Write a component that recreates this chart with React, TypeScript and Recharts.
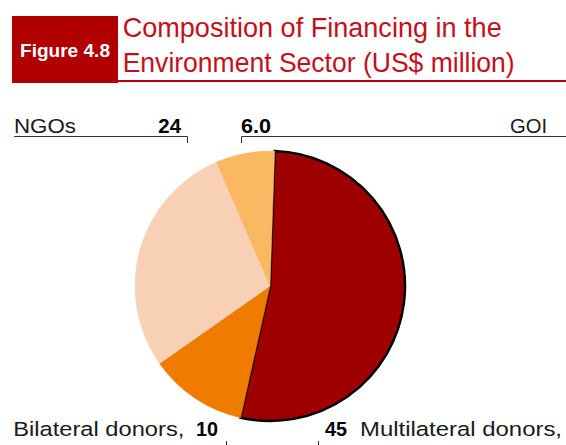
import React from "react";
import { PieChart, Pie, Cell } from "recharts";

const categories = ["Multilateral donors", "Bilateral donors", "NGOs", "GOI"];
const values = [45, 10, 24, 6.0];
const valueLabels = ["45", "10", "24", "6.0"];
const colors = ["#9e0000", "#ef7b00", "#f8d0b6", "#fbb862"];
const titleLines = ["Composition of Financing in the", "Environment Sector (US$ million)"];
const figureLabel = "Figure 4.8";

const data = categories.map((name, i) => ({ name, value: values[i] }));

const FONT = "'Liberation Sans', Arial, sans-serif";
const TXT = "#1a1a1a";

export default function App() {
  return (
    <div style={{ position: "absolute", left: 0, top: 0, width: 566, height: 445, background: "#fff", overflow: "hidden" }}>
      <div style={{ position: "absolute", left: 0, top: 0 }}>
        <PieChart width={566} height={445} margin={{ top: 0, right: 0, bottom: 0, left: 0 }}>
          <Pie
            data={data}
            dataKey="value"
            nameKey="name"
            cx={270}
            cy={286}
            outerRadius={135}
            innerRadius={0}
            startAngle={88}
            endAngle={-272}
            isAnimationActive={false}
            stroke="none"
            label={false}
            labelLine={false}
          >
            {data.map((d, i) => (
              <Cell
                key={d.name}
                fill={colors[i]}
                stroke={i === 0 ? "#000" : colors[i]}
                strokeWidth={i === 0 ? 2.5 : 0.5}
              />
            ))}
          </Pie>
        </PieChart>
      </div>
      <svg width={566} height={445} style={{ position: "absolute", left: 0, top: 0, pointerEvents: "none" }}>
        <rect x={12} y={16} width={106} height={67} fill="#b00000" />
        <text x={20} y={56.5} fill="#fff" fontFamily={FONT} fontWeight="bold" fontSize={18.5} textLength={90} lengthAdjust="spacingAndGlyphs">{figureLabel}</text>
        <text x={122.7} y={36.5} fill="#c4101a" fontFamily={FONT} fontSize={28} textLength={379} lengthAdjust="spacingAndGlyphs">{titleLines[0]}</text>
        <text x={122.7} y={71.5} fill="#c4101a" fontFamily={FONT} fontSize={28} textLength={392} lengthAdjust="spacingAndGlyphs">{titleLines[1]}</text>
        <line x1={118} y1={81} x2={566} y2={81} stroke="#b80010" strokeWidth={2} />

        {/* NGOs label */}
        <text x={14} y={132.7} fill={TXT} fontFamily={FONT} fontSize={20} textLength={62} lengthAdjust="spacingAndGlyphs">{categories[2]}</text>
        <text x={158.3} y={132.7} fill="#000" fontFamily={FONT} fontSize={20} fontWeight="bold" textLength={22.7} lengthAdjust="spacingAndGlyphs">{valueLabels[2]}</text>
        <polyline points="14,136.5 187.5,136.5 187.5,143" fill="none" stroke="#333" strokeWidth={1} />

        {/* GOI label */}
        <text x={241} y={132.7} fill="#000" fontFamily={FONT} fontSize={20} fontWeight="bold" textLength={30} lengthAdjust="spacingAndGlyphs">{valueLabels[3]}</text>
        <text x={510} y={132.7} fill={TXT} fontFamily={FONT} fontSize={20} textLength={37} lengthAdjust="spacingAndGlyphs">{categories[3]}</text>
        <polyline points="241.5,143 241.5,136.5 566,136.5" fill="none" stroke="#333" strokeWidth={1} />

        {/* Bilateral label */}
        <text x={13.3} y={436} fill={TXT} fontFamily={FONT} fontSize={20.5} textLength={171} lengthAdjust="spacingAndGlyphs">{categories[1] + ","}</text>
        <text x={196} y={436} fill="#000" fontFamily={FONT} fontSize={20.5} fontWeight="bold" textLength={22} lengthAdjust="spacingAndGlyphs">{valueLabels[1]}</text>
        <line x1={226.5} y1={441} x2={226.5} y2={445} stroke="#333" strokeWidth={1} />

        {/* Multilateral label */}
        <text x={325} y={436} fill="#000" fontFamily={FONT} fontSize={20.5} fontWeight="bold" textLength={22} lengthAdjust="spacingAndGlyphs">{valueLabels[0]}</text>
        <text x={360} y={436} fill={TXT} fontFamily={FONT} fontSize={20.5} textLength={202} lengthAdjust="spacingAndGlyphs">{categories[0] + ","}</text>
        <line x1={318.5} y1={441} x2={318.5} y2={445} stroke="#333" strokeWidth={1} />
      </svg>
    </div>
  );
}
